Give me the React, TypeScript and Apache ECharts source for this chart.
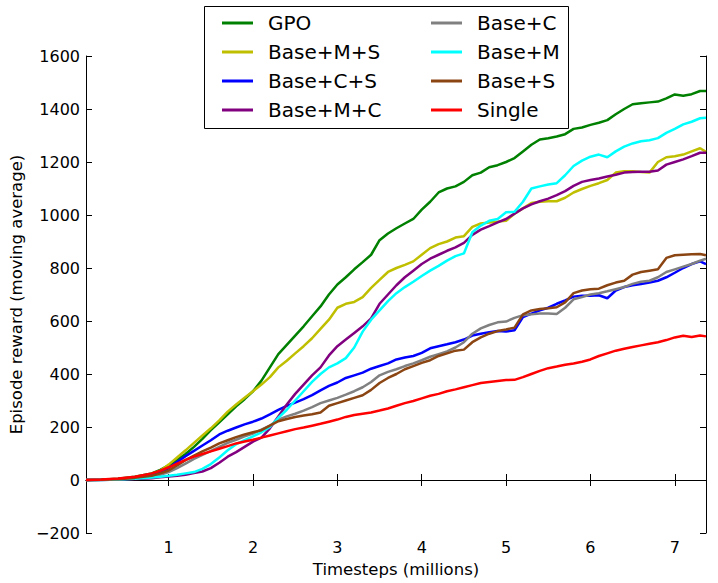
import React, { useEffect, useRef } from "react";
import * as echarts from "echarts";

const timesteps = [
  0.02, 0.2, 0.4, 0.6, 0.8,
  0.9, 1.0, 1.1, 1.2, 1.3, 1.4, 1.5, 1.6, 1.7, 1.8, 1.9,
  2.0, 2.1, 2.2, 2.3, 2.4, 2.5, 2.6, 2.7, 2.8, 2.9,
  3.0, 3.1, 3.2, 3.3, 3.4, 3.5, 3.6, 3.7, 3.8, 3.9,
  4.0, 4.1, 4.2, 4.3, 4.4, 4.5, 4.6, 4.7, 4.8, 4.9,
  5.0, 5.1, 5.2, 5.3, 5.4, 5.5, 5.6, 5.7, 5.8, 5.9,
  6.0, 6.1, 6.2, 6.3, 6.4, 6.5, 6.6, 6.7, 6.8, 6.9,
  7.0, 7.1, 7.2, 7.3, 7.37,
];

const gpo = [
  0, 1, 5, 12, 25,
  38, 55, 75, 98, 125, 155, 188, 218, 248, 278, 305,
  335, 375, 425, 475, 510, 545, 580, 618, 655, 700,
  738, 765, 795, 822, 850, 905, 930, 950, 968, 985,
  1020, 1050, 1085, 1100, 1108, 1125, 1150, 1160, 1180, 1188,
  1200, 1215, 1240, 1265, 1285, 1290, 1296, 1305, 1325, 1330,
  1340, 1348, 1358, 1380, 1400, 1418, 1422, 1425, 1428, 1440,
  1455, 1450, 1456, 1468, 1468,
];

const baseMS = [
  0, 1, 4, 10, 22,
  35, 58, 85, 112, 140, 168, 195, 225, 258, 285, 310,
  335, 360, 388, 425, 450, 478, 505, 535, 570, 605,
  650, 665, 672, 690, 725, 755, 785, 800, 812, 825,
  850, 875, 890, 900, 915, 920, 955, 968, 972, 975,
  978, 1005, 1025, 1045, 1050, 1052, 1052, 1065, 1085, 1098,
  1110, 1120, 1132, 1160, 1165, 1165, 1162, 1160, 1200, 1218,
  1222, 1228, 1240, 1252, 1238,
];

const baseCS = [
  0, 1, 4, 9, 18,
  28, 45, 68, 90, 110, 130, 150, 172, 186, 198, 210,
  220, 232, 248, 265, 280, 292, 305, 320, 338, 355,
  368, 385, 395, 405, 420, 430, 440, 455, 462, 468,
  480, 497, 505, 512, 520, 530, 545, 552, 558, 562,
  560, 565, 615, 628, 640, 650, 665, 678, 692, 695,
  695, 697, 686, 715, 728, 735, 740, 745, 752, 765,
  782, 800, 815, 825, 815,
];

const baseMC = [
  0, 0, 2, 4, 7,
  10, 13, 16, 20, 26, 32, 45, 65, 88, 105, 125,
  145, 160, 195, 240, 285, 325, 360, 395, 425, 470,
  505, 530, 555, 580, 610, 665, 700, 735, 765, 790,
  815, 835, 850, 865, 878, 895, 925, 945, 958, 972,
  985, 1005, 1025, 1040, 1052, 1062, 1075, 1090, 1110, 1125,
  1132, 1138, 1145, 1152, 1160, 1162, 1163, 1163, 1168, 1190,
  1200, 1210, 1222, 1235, 1235,
];

const baseC = [
  0, 1, 3, 7, 14,
  20, 30, 45, 62, 80, 95, 110, 125, 140, 152, 165,
  175, 190, 205, 228, 240, 250, 262, 275, 290, 300,
  310, 322, 335, 350, 370, 395, 408, 418, 430, 440,
  452, 465, 475, 485, 500, 520, 552, 572, 585, 595,
  598, 612, 622, 625, 628, 628, 626, 650, 682, 690,
  700, 705, 712, 720, 728, 740, 748, 752, 765, 785,
  795, 805, 815, 828, 835,
];

const baseM = [
  0, 0, 2, 5, 9,
  12, 16, 20, 25, 30, 42, 60, 85, 112, 135, 150,
  165, 180, 200, 235, 265, 300, 335, 370, 400, 425,
  440, 460, 500, 560, 605, 640, 675, 705, 728, 748,
  770, 790, 808, 828, 845, 855, 935, 960, 978, 985,
  1010, 1012, 1050, 1100, 1108, 1115, 1120, 1150, 1185, 1205,
  1220, 1228, 1218, 1240, 1258, 1270, 1278, 1282, 1290, 1310,
  1325, 1342, 1352, 1365, 1367,
];

const baseS = [
  0, 1, 3, 8, 16,
  25, 36, 55, 75, 92, 108, 122, 138, 150, 162, 172,
  180, 188, 205, 222, 230, 238, 243, 248, 255, 280,
  290, 300, 310, 320, 340, 366, 385, 400, 418, 430,
  442, 452, 468, 478, 488, 492, 520, 538, 552, 562,
  568, 575, 625, 640, 645, 648, 652, 670, 705, 715,
  720, 722, 735, 745, 752, 775, 785, 790, 795, 838,
  848, 850, 852, 853, 848,
];

const single = [
  0, 2, 6, 12, 25,
  35, 48, 62, 76, 88, 98, 108, 118, 128, 138, 145,
  152, 160, 168, 176, 184, 192, 198, 205, 212, 220,
  228, 238, 245, 250, 255, 262, 270, 280, 290, 298,
  308, 318, 325, 335, 342, 350, 358, 366, 370, 374,
  377, 378, 388, 400, 412, 422, 428, 435, 440, 446,
  455, 468, 478, 488, 495, 502, 508, 514, 520, 528,
  538, 544, 540, 545, 542,
];

const seriesNames = ["GPO", "Base+M+S", "Base+C+S", "Base+M+C", "Base+C", "Base+M", "Base+S", "Single"];
const seriesValues = [gpo, baseMS, baseCS, baseMC, baseC, baseM, baseS, single];
const seriesColors = ["#008000", "#bfbf00", "#0000ff", "#800080", "#808080", "#00ffff", "#8b4513", "#ff0000"];

const xTicks = [1, 2, 3, 4, 5, 6, 7];
const FONT = "DejaVu Sans";

export default function App() {
  const ref = useRef<HTMLDivElement>(null);

  useEffect(() => {
    if (!ref.current) return;
    const chart = echarts.init(ref.current, null, { renderer: "svg" });

    const tickStyle = { inside: true, length: 6, lineStyle: { color: "#000", width: 1 } };
    const lineStyle = { lineStyle: { color: "#000", width: 1 } };

    const legendCommon = {
      orient: "vertical" as const,
      top: 8,
      itemWidth: 31,
      itemHeight: 3,
      itemGap: 9,
      icon: "rect",
      z: 5,
      textStyle: {
        fontFamily: FONT,
        fontSize: 20,
        color: "#000",
        lineHeight: 20,
        padding: [0, 0, 0, 10],
      },
    };

    chart.setOption({
      animation: false,
      backgroundColor: "#fff",
      grid: { left: 86, top: 56, right: 12, bottom: 47, containLabel: false },
      xAxis: [
        {
          type: "value",
          position: "bottom",
          min: 0.02,
          max: 7.37,
          axisLine: { show: true, ...lineStyle },
          axisTick: { ...tickStyle, customValues: xTicks },
          axisLabel: {
            customValues: xTicks,
            fontFamily: FONT,
            fontSize: 16,
            color: "#000",
            margin: 6,
          },
          splitLine: { show: false },
          name: "Timesteps (millions)",
          nameLocation: "middle",
          nameGap: 28,
          nameTextStyle: { fontFamily: FONT, fontSize: 16.5, color: "#000" },
        },
        {
          type: "value",
          position: "top",
          min: 0.02,
          max: 7.37,
          axisLine: { show: true, ...lineStyle },
          axisTick: { ...tickStyle, customValues: xTicks },
          axisLabel: { show: false, customValues: xTicks },
          splitLine: { show: false },
        },
      ],
      yAxis: [
        {
          type: "value",
          position: "left",
          min: -200,
          max: 1600,
          interval: 200,
          axisLine: { show: true, ...lineStyle },
          axisTick: tickStyle,
          axisLabel: {
            fontFamily: FONT,
            fontSize: 16,
            color: "#000",
            margin: 6,
            formatter: (v: number) => (v < 0 ? "\u2212" + Math.abs(v) : String(v)),
          },
          splitLine: { show: false },
          name: "Episode reward (moving average)",
          nameLocation: "middle",
          nameGap: 60,
          nameTextStyle: { fontFamily: FONT, fontSize: 16.5, color: "#000" },
        },
        {
          type: "value",
          position: "right",
          min: -200,
          max: 1600,
          interval: 200,
          axisLine: { show: true, ...lineStyle },
          axisTick: tickStyle,
          axisLabel: { show: false },
          splitLine: { show: false },
        },
      ],
      legend: [
        { ...legendCommon, left: 217, data: seriesNames.slice(0, 4) },
        { ...legendCommon, left: 426, data: seriesNames.slice(4) },
      ],
      graphic: [
        {
          type: "rect",
          z: 3,
          shape: { x: 204.5, y: 6.5, width: 364, height: 122 },
          style: { fill: "#fff", stroke: "#000", lineWidth: 1 },
        },
      ],
      series: seriesNames.map((name, i) => ({
        name,
        type: "line",
        xAxisIndex: 0,
        yAxisIndex: 0,
        showSymbol: false,
        symbol: "none",
        color: seriesColors[i],
        lineStyle: { width: 2.5, color: seriesColors[i] },
        data: timesteps.map((t, j) => [t, seriesValues[i][j]]),
      })),
    });

    return () => chart.dispose();
  }, []);

  return (
    <div
      ref={ref}
      style={{ position: "fixed", left: 0, top: 0, width: 718, height: 583 }}
    />
  );
}
